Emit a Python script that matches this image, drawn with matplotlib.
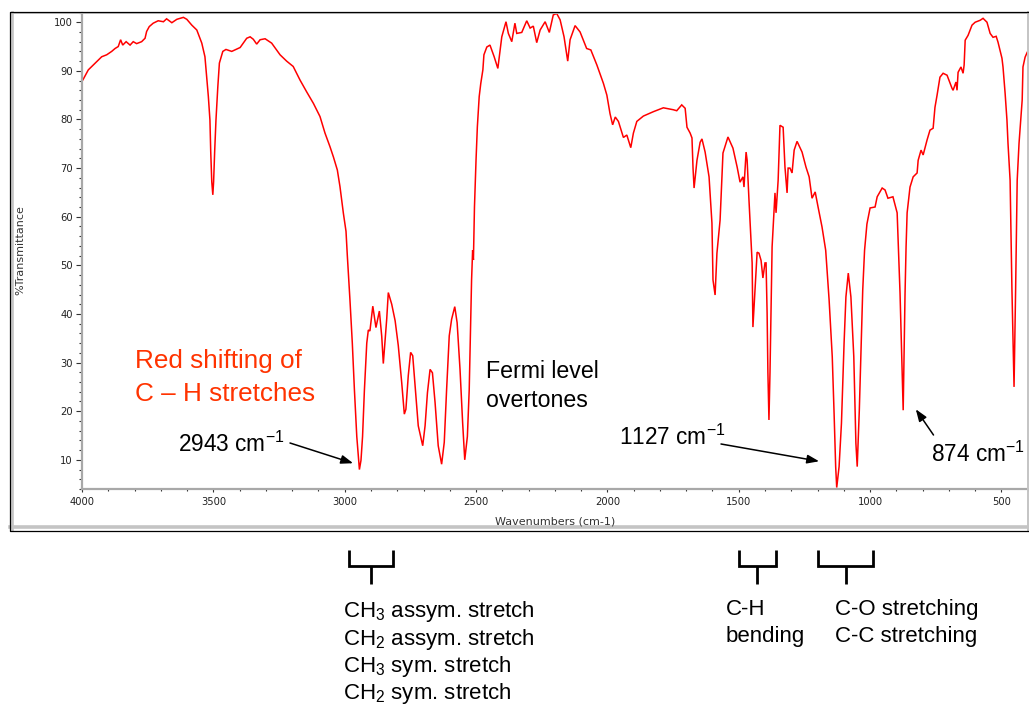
import matplotlib
matplotlib.use("Agg")
import matplotlib.pyplot as plt
from matplotlib.lines import Line2D
from matplotlib import transforms
from matplotlib.ticker import MultipleLocator

# ---------------- data ----------------
wavenumber = [
    4000, 3997, 3976, 3944, 3925, 3906, 3887, 3874, 3862, 3853, 3845, 3832, 3817, 3805, 3792,
    3773, 3760, 3754, 3744, 3729, 3710, 3690, 3678, 3658, 3639, 3627, 3614, 3601, 3582, 3563,
    3544, 3532, 3519, 3513, 3510, 3506, 3502, 3499, 3495, 3490, 3483, 3477, 3464, 3452, 3430,
    3398, 3373, 3360, 3348, 3335, 3322, 3303, 3278, 3246, 3221, 3196, 3170, 3145, 3119, 3094,
    3075, 3056, 3043, 3028, 3018, 3005, 2995, 2990, 2980, 2971, 2963, 2954, 2944, 2938, 2932,
    2925, 2916, 2910, 2904, 2893, 2881, 2868, 2859, 2853, 2845, 2840, 2834, 2821, 2808, 2796,
    2783, 2773, 2767, 2758, 2749, 2741, 2733, 2720, 2703, 2694, 2685, 2675, 2666, 2656, 2644,
    2631, 2621, 2612, 2602, 2593, 2581, 2572, 2561, 2551, 2543, 2533, 2526, 2520, 2517, 2513,
    2510, 2506, 2500, 2495, 2488, 2482, 2474, 2470, 2459, 2447, 2431, 2417, 2402, 2386, 2377,
    2364, 2352, 2345, 2326, 2307, 2294, 2282, 2269, 2256, 2237, 2221, 2206, 2193, 2180, 2165,
    2151, 2142, 2123, 2104, 2079, 2063, 2040, 2015, 2002, 1990, 1980, 1970, 1958, 1939, 1926,
    1911, 1901, 1888, 1863, 1825, 1787, 1749, 1736, 1717, 1704, 1697, 1685, 1678, 1674, 1670,
    1659, 1647, 1640, 1628, 1613, 1602, 1598, 1590, 1583, 1571, 1560, 1541, 1522, 1506, 1495,
    1484, 1480, 1472, 1468, 1461, 1449, 1446, 1438, 1430, 1423, 1415, 1408, 1400, 1396, 1392,
    1389, 1385, 1381, 1373, 1362, 1358, 1350, 1343, 1331, 1324, 1316, 1312, 1305, 1297, 1289,
    1278, 1259, 1244, 1232, 1221, 1209, 1198, 1183, 1169, 1156, 1144, 1137, 1131, 1127, 1118,
    1109, 1099, 1092, 1083, 1073, 1062, 1054, 1049, 1041, 1028, 1021, 1012, 1000, 981, 973,
    954, 943, 932, 913, 897, 886, 874, 867, 863, 859, 848, 836, 821, 817, 806,
    798, 783, 772, 760, 753, 745, 734, 722, 707, 688, 684, 673, 669, 665, 654,
    646, 642, 638, 627, 612, 600, 581, 570, 555, 543, 532, 520, 513, 498, 494,
    486, 479, 475, 467, 460, 452, 446, 440, 433, 421, 418, 410, 402,
]
transmittance = [
    88.0, 88.1, 90.2, 91.9, 92.9, 93.3, 94.0, 94.6, 95.0, 96.4, 95.3, 96.0, 95.3, 96.0, 95.6,
    96.0, 96.7, 98.1, 99.1, 99.8, 100.3, 100.1, 100.7, 99.9, 100.6, 100.8, 101.0, 100.6, 99.4, 98.4,
    95.7, 92.9, 84.7, 79.9, 73.4, 67.2, 64.5, 67.2, 73.4, 79.9, 86.7, 91.6, 94.0, 94.4, 94.0,
    94.8, 96.7, 97.0, 96.5, 95.5, 96.4, 96.6, 95.7, 93.3, 92.0, 90.9, 88.1, 85.7, 83.3, 80.6,
    77.2, 74.4, 72.3, 69.6, 66.2, 60.7, 57.0, 52.0, 42.9, 34.0, 24.4, 14.8, 8.0, 9.9, 14.8,
    24.3, 34.0, 36.7, 36.5, 41.6, 37.2, 40.6, 35.4, 29.8, 35.4, 39.0, 44.4, 42.0, 38.6, 33.5,
    25.9, 19.4, 20.4, 27.3, 32.1, 31.4, 25.9, 17.0, 12.9, 17.0, 23.8, 28.6, 27.9, 21.8, 12.9,
    9.1, 13.6, 24.5, 35.5, 38.9, 41.5, 38.2, 28.6, 17.6, 10.0, 14.8, 24.4, 39.4, 47.0, 53.1,
    51.1, 62.0, 71.7, 78.5, 84.7, 87.4, 90.2, 93.3, 94.9, 95.3, 92.9, 90.5, 97.0, 100.1, 97.7,
    96.0, 99.8, 97.7, 97.9, 100.3, 98.8, 99.2, 95.8, 98.4, 100.1, 97.9, 101.5, 101.8, 100.5, 97.0,
    92.0, 96.4, 99.3, 98.0, 94.6, 94.3, 91.2, 87.4, 85.0, 81.2, 78.9, 80.5, 79.6, 76.3, 76.8,
    74.2, 77.2, 79.6, 80.7, 81.6, 82.4, 82.0, 81.8, 83.0, 82.3, 78.4, 77.2, 76.2, 70.0, 65.9,
    71.6, 75.3, 76.0, 73.3, 68.2, 58.7, 47.0, 43.9, 52.5, 59.3, 73.1, 76.4, 74.1, 70.2, 67.1,
    68.2, 66.1, 73.3, 71.6, 63.4, 50.5, 37.3, 45.0, 52.7, 52.5, 51.0, 47.4, 50.5, 50.5, 40.2,
    28.0, 18.2, 28.0, 53.8, 64.9, 60.8, 67.5, 78.8, 78.4, 70.2, 64.9, 70.0, 70.0, 69.0, 73.7,
    75.5, 73.3, 70.2, 68.2, 63.8, 65.1, 62.0, 57.9, 53.1, 42.9, 31.2, 19.5, 8.6, 4.3, 8.6,
    17.5, 34.0, 43.5, 48.4, 43.5, 31.2, 13.4, 8.6, 20.2, 44.9, 53.1, 58.5, 61.8, 62.0, 64.1,
    65.9, 65.5, 63.8, 64.1, 60.8, 44.3, 20.2, 44.0, 53.8, 60.8, 66.1, 68.2, 69.0, 71.6, 73.7,
    72.7, 75.8, 77.8, 78.2, 82.5, 85.0, 88.7, 89.5, 89.1, 86.4, 86.0, 87.7, 86.0, 89.7, 90.8,
    89.5, 91.2, 96.3, 97.3, 99.4, 100.0, 100.4, 100.8, 100.0, 97.7, 96.9, 97.1, 95.9, 92.6, 90.8,
    85.4, 79.9, 75.1, 67.5, 45.0, 25.0, 45.0, 67.5, 75.1, 84.0, 90.8, 92.8, 93.8,
]

x_ticks = [4000, 3500, 3000, 2500, 2000, 1500, 1000, 500]
y_ticks = [10, 20, 30, 40, 50, 60, 70, 80, 90, 100]

# labelled peaks: text, and the point (wavenumber, T) the arrow tip reaches
peak_labels = ["2943 cm$^{\\mathregular{-1}}$", "1127 cm$^{\\mathregular{-1}}$", "874 cm$^{\\mathregular{-1}}$"]
peak_arrow_wn = [2968, 1194, 826]
peak_arrow_t = [9.3, 9.7, 20.4]

# bracketed regions below the chart (wavenumber ranges)
bracket_ranges = [(2985, 2815), (1500, 1360), (1197, 990)]

left_group = ["CH$_{\\mathregular{3}}$ assym. stretch", "CH$_{\\mathregular{2}}$ assym. stretch",
              "CH$_{\\mathregular{3}}$ sym. stretch", "CH$_{\\mathregular{2}}$ sym. stretch"]
mid_group = ["C-H", "bending"]
right_group = ["C-O stretching", "C-C stretching"]

# ---------------- figure ----------------
plt.rcParams['font.family'] = ['DejaVu Sans']
plt.rcParams['mathtext.fontset'] = 'custom'
plt.rcParams['mathtext.rm'] = 'Liberation Sans'
plt.rcParams['mathtext.it'] = 'Liberation Sans:italic'
plt.rcParams['mathtext.bf'] = 'Liberation Sans:bold'

W, H = 1029, 708
fig = plt.figure(figsize=(W / 100, H / 100), dpi=100)
fig.patch.set_facecolor('white')


def fx(px):
    return px / W


def fy(py):
    return 1 - py / H


ax = fig.add_axes([fx(82), fy(489), fx(1027.7) - fx(82), fy(12.5) - fy(489)])
ax.set_facecolor('white')
ax.plot(wavenumber, transmittance, color='#FF0000', lw=1.1, solid_joinstyle='miter')

ax.set_xticks(x_ticks)
ax.set_xticklabels([str(t) for t in x_ticks])
ax.xaxis.set_minor_locator(MultipleLocator(100))
ax.set_yticks(y_ticks)
ax.set_yticklabels([str(t) for t in y_ticks])
ax.yaxis.set_minor_locator(MultipleLocator(2))

tick_col = '#333333'
ax.tick_params(axis='y', which='major', direction='out', length=4.3, width=0.8, color=tick_col,
               pad=2.4, labelsize=7.2, labelcolor='#222222')
ax.tick_params(axis='y', which='minor', direction='out', length=2.2, width=0.8, color=tick_col)
ax.tick_params(axis='x', which='major', direction='out', length=2.5, width=0.8, color=tick_col,
               pad=3.2, labelsize=7.2, labelcolor='#222222')
ax.tick_params(axis='x', which='minor', direction='out', length=1.3, width=0.8, color=tick_col)
for s in ['top', 'right']:
    ax.spines[s].set_visible(False)
for s in ['left', 'bottom']:
    ax.spines[s].set_color('#A8A8A8')
    ax.spines[s].set_linewidth(1.6)

fig.text(fx(20), fy(250), '%Transmittance', rotation=90, ha='center', va='center',
         fontsize=8, color='#333333', family='DejaVu Sans')
fig.text(fx(555), fy(521), 'Wavenumbers (cm-1)', ha='center', va='center',
         fontsize=8, color='#333333', family='DejaVu Sans')

# ---------------- frame ----------------
def fline(xs, ys, **kw):
    fig.add_artist(Line2D([fx(x) for x in xs], [fy(y) for y in ys],
                          transform=fig.transFigure, **kw))


grey = '#C4C4C4'
fline([12.3, 12.3], [12, 530], color=grey, lw=1.9)
fline([10, 1040], [527.3, 527.3], color=grey, lw=2.6)
fline([1028, 1028], [12, 530], color=grey, lw=1.4)
fline([10, 1040], [13.3, 13.3], color=grey, lw=0.7)
fline([1040, 10.3, 10.3, 1040], [11.8, 11.8, 530.8, 530.8], color='black', lw=0.9)

# ---------------- annotations ----------------
sans = ['Liberation Sans', 'DejaVu Sans']
red = '#FF3300'
fig.text(fx(135), fy(368.3), 'Red shifting of', color=red, fontsize=18.8, family=sans,
         ha='left', va='baseline')
fig.text(fx(135), fy(400.7), 'C \u2013 H stretches', color=red, fontsize=18.8, family=sans,
         ha='left', va='baseline')
fig.text(fx(486), fy(378), 'Fermi level', color='black', fontsize=16.7, family=sans,
         ha='left', va='baseline')
fig.text(fx(486), fy(406.7), 'overtones', color='black', fontsize=16.7, family=sans,
         ha='left', va='baseline')

label_pos = [(178, 452.3), (619, 445), (931, 461.7)]
tail_pos = [(290, 443), (721, 444), (933.5, 435)]
for txt, wn, tv, (lx, ly), (tx, ty) in zip(peak_labels, peak_arrow_wn, peak_arrow_t,
                                           label_pos, tail_pos):
    fig.text(fx(lx), fy(ly), txt, color='black', fontsize=16.3, family=sans,
             ha='left', va='baseline')
    ax.annotate('', xy=(wn, tv), xycoords='data', xytext=(fx(tx), fy(ty)),
                textcoords='figure fraction', annotation_clip=False,
                arrowprops=dict(arrowstyle='-|>,head_length=0.6,head_width=0.22',
                                color='black', lw=1.1, mutation_scale=12,
                                shrinkA=0, shrinkB=0))

# brackets below the frame, aligned to wavenumber ranges
trans = transforms.blended_transform_factory(ax.transData, fig.transFigure)
for a, b in bracket_ranges:
    m = (a + b) / 2
    ax.add_line(Line2D([a, a, b, b], [fy(550), fy(566), fy(566), fy(550)], transform=trans,
                       color='black', lw=2.0, clip_on=False, solid_joinstyle='miter',
                       solid_capstyle='butt'))
    ax.add_line(Line2D([m, m], [fy(566), fy(584)], transform=trans, color='black', lw=2.0,
                       clip_on=False, solid_capstyle='butt'))

for i, line in enumerate(left_group):
    fig.text(fx(342.7), fy(617.3 + i * 27.3), line, fontsize=16, family=sans, color='black',
             ha='left', va='baseline')
for i, line in enumerate(mid_group):
    fig.text(fx(726), fy(615 + i * 27.3), line, fontsize=16, family=sans, color='black',
             ha='left', va='baseline')
for i, line in enumerate(right_group):
    fig.text(fx(835), fy(615 + i * 27.3), line, fontsize=16, family=sans, color='black',
             ha='left', va='baseline')

ax.set_xlim(4000, 400)
ax.set_ylim(4, 102)

fig.savefig('out.png', dpi=100, facecolor='white')
